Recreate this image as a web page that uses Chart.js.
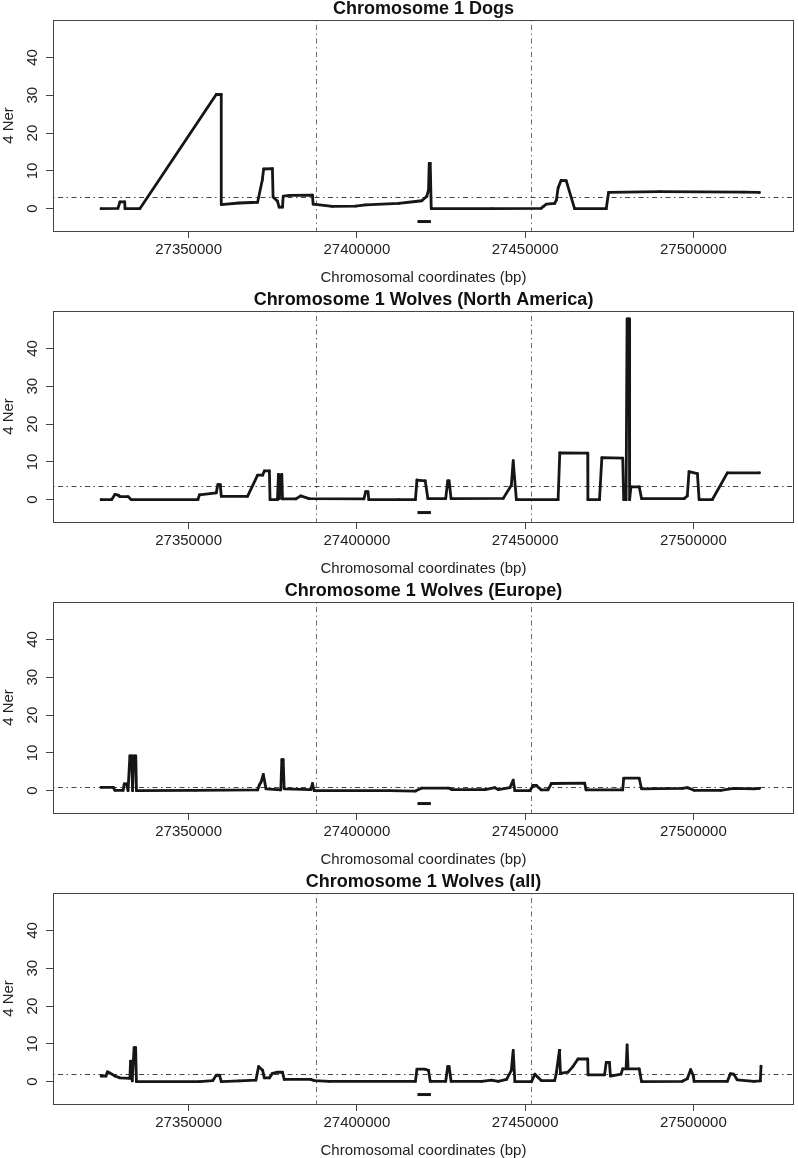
<!DOCTYPE html>
<html>
<head>
<meta charset="utf-8">
<script src="https://cdn.jsdelivr.net/npm/chart.js@4.4.1/dist/chart.umd.min.js"></script>
<style>
  html, body { margin: 0; padding: 0; background: #fff; overflow: hidden; }
  canvas { position: absolute; left: 0; }
</style>
</head>
<body>
<canvas id="c1" width="798" height="290" style="top:0px"></canvas>
<canvas id="c2" width="798" height="290" style="top:291px"></canvas>
<canvas id="c3" width="798" height="290" style="top:582px"></canvas>
<canvas id="c4" width="798" height="290" style="top:873px"></canvas>
<script>
// axes
const xTicks = [27350000, 27400000, 27450000, 27500000];
const yTicks = [0, 10, 20, 30, 40];
const xRange = [27309700, 27529900];
const yRange = [-5.9, 49.9];

// region markers
const boundaries = [27388000, 27451700];
const barX = [27418000, 27422000];
const barLevel = -3.4;

// panel titles and mean 4Ner
const titles = [
  "Chromosome 1 Dogs",
  "Chromosome 1 Wolves (North America)",
  "Chromosome 1 Wolves (Europe)",
  "Chromosome 1 Wolves (all)"
];
const means = [3.1, 3.6, 0.9, 2.0];

// Dogs
const dogsPos = [
  27324000, 27329000, 27329600, 27331000, 27331100, 27335500,
  27358200, 27359700, 27359700, 27365000, 27370500, 27371900,
  27372300, 27374900, 27375100, 27376400, 27376900, 27377900,
  27378100, 27380000, 27386800, 27387000, 27392700, 27399600,
  27402600, 27412400, 27417400, 27419300, 27420800, 27421300,
  27421500, 27421800, 27422100, 27440000, 27454800, 27455300,
  27456300, 27458800, 27459300, 27459800, 27460700, 27462200,
  27464700, 27474100, 27474800, 27490000, 27515000, 27519600
];
const dogsNe = [
  0, 0.1, 1.8, 1.8, 0, 0,
  30.2, 30.2, 1.1, 1.5, 1.7, 7.6,
  10.5, 10.6, 3.1, 2.0, 0.4, 0.4,
  3.3, 3.5, 3.6, 1.2, 0.6, 0.7,
  1.0, 1.4, 1.9, 2.1, 3.3, 5.0,
  12.0, 12.0, 0, 0, 0.1, 0.5,
  1.2, 1.4, 2.3, 5.5, 7.5, 7.4,
  0, 0, 4.3, 4.5, 4.4, 4.3
];

// Wolves North America
const naPos = [
  27324000, 27327100, 27328100, 27329100, 27329600, 27332000,
  27333000, 27352750, 27353250, 27358200, 27358700, 27359400,
  27359700, 27367500, 27370500, 27372000, 27372500, 27374000,
  27374200, 27376400, 27376700, 27377000, 27377300, 27377700,
  27377900, 27381900, 27383300, 27385800, 27402100, 27402600,
  27403300, 27403550, 27412400, 27417400, 27417850, 27420300,
  27421100, 27426400, 27427000, 27427400, 27428000, 27443500,
  27445900, 27446450, 27447400, 27459800, 27460300, 27468600,
  27468650, 27472100, 27472800, 27479000, 27479300, 27480000,
  27480300, 27480900, 27481050, 27481450, 27483900, 27484600,
  27497250, 27498200, 27498700, 27501200, 27501700, 27505600,
  27510100, 27519600
];
const naNe = [
  0, 0, 1.4, 1.2, 0.8, 0.8,
  0, 0, 1.3, 1.8, 4.0, 4.0,
  0.9, 0.9, 6.5, 6.5, 7.6, 7.6,
  0, 0, 6.7, 0.3, 6.5, 6.7,
  0.2, 0.2, 1.0, 0.3, 0.2, 2.1,
  2.1, 0, 0, 0, 5.2, 5.0,
  0.3, 0.3, 5.0, 5.0, 0.3, 0.35,
  3.8, 10.3, 0, 0, 12.4, 12.3,
  0, 0, 11.1, 11.0, 0, 0,
  47.8, 47.8, 0, 3.4, 3.4, 0.3,
  0.3, 1.0, 7.4, 6.9, 0, 0,
  7.1, 7.1
];

// Wolves Europe
const euPos = [
  27324000, 27327600, 27328100, 27330550, 27330850, 27331550,
  27332000, 27332550, 27333050, 27333350, 27333700, 27334300,
  27334500, 27352000, 27370500, 27371000, 27371500, 27372200,
  27373000, 27377400, 27377700, 27378100, 27378400, 27386300,
  27386800, 27387300, 27409500, 27417400, 27419300, 27427200,
  27428200, 27438100, 27441000, 27442000, 27445500, 27446450,
  27446950, 27451400, 27452400, 27453300, 27454800, 27456800,
  27457800, 27467700, 27468100, 27479000, 27479300, 27483900,
  27484600, 27496700, 27498200, 27500200, 27508100, 27512000,
  27518000, 27519600
];
const euNe = [
  0.9, 0.9, 0.1, 0.1, 1.8, 1.8,
  0, 9.2, 9.2, 0, 9.2, 9.2,
  0, 0.1, 0.2, 1.5, 2.2, 4.3,
  0.5, 0.2, 8.2, 8.2, 0.5, 0.3,
  1.9, 0, 0, -0.1, 0.7, 0.7,
  0.3, 0.3, 0.8, 0.3, 0.8, 2.8,
  0, 0, 1.4, 1.4, 0.2, 0.2,
  1.9, 2.0, 0.2, 0.2, 3.3, 3.3,
  0.5, 0.6, 0.8, 0.1, 0.1, 0.6,
  0.5, 0.6
];

// Wolves all
const allPos = [
  27324000, 27325450, 27325850, 27326600, 27328100, 27329600,
  27332550, 27332750, 27333050, 27333250, 27333800, 27334250,
  27334500, 27353250, 27357200, 27358200, 27359200, 27359700,
  27365100, 27370000, 27370800, 27372000, 27372500, 27374000,
  27374900, 27376400, 27377900, 27378400, 27386300, 27387300,
  27391700, 27417400, 27417850, 27420300, 27421300, 27421800,
  27426400, 27427000, 27427400, 27428000, 27437100, 27440000,
  27442000, 27444500, 27445900, 27446450, 27446950, 27451900,
  27452900, 27453800, 27454800, 27458800, 27459300, 27460200,
  27460350, 27460500, 27462700, 27464200, 27465700, 27468600,
  27468700, 27473600, 27474100, 27475050, 27475350, 27478500,
  27479000, 27480000, 27480300, 27480600, 27483900, 27484600,
  27496700, 27498200, 27499200, 27500000, 27500200, 27510100,
  27511000, 27512000, 27513000, 27518000, 27519900, 27520100
];
const allNe = [
  1.5, 1.5, 2.6, 2.3, 1.5, 1.0,
  0.9, 5.4, 5.4, 0.2, 9.0, 9.0,
  0, 0, 0.3, 1.7, 1.7, 0,
  0.2, 0.4, 4.0, 3.0, 1.0, 1.0,
  2.2, 2.5, 2.5, 0.6, 0.6, 0.3,
  0.1, 0.1, 3.3, 3.3, 3.0, 0.1,
  0.1, 4.0, 4.0, 0.1, 0.1, 0.4,
  0.1, 0.6, 3.0, 8.3, 0, 0,
  2.0, 1.2, 0.3, 0.3, 2.5, 8.3,
  8.3, 2.2, 2.5, 4.0, 6.0, 6.0,
  1.8, 1.8, 5.1, 5.1, 1.5, 2.0,
  3.4, 3.4, 9.7, 3.4, 3.4, 0,
  0.1, 0.8, 3.2, 1.5, 0.1, 0.1,
  2.1, 2.0, 0.5, 0.1, 0.2, 4.1
];

const FONT = "Liberation Sans";
Chart.defaults.font.family = FONT;

// box, reference lines and rotated y labels like R's base graphics
const frame = {
  id: "frame",
  beforeDatasetsDraw(chart, args, opts) {
    const { ctx, chartArea: a, scales: { x, y } } = chart;
    ctx.save();
    ctx.lineWidth = 1;
    ctx.setLineDash([1.5, 3.5, 5, 3.5]);
    ctx.strokeStyle = "#6a6a6a";
    boundaries.forEach(b => {
      const px = Math.round(x.getPixelForValue(b)) + 0.5;
      ctx.beginPath();
      ctx.moveTo(px, a.top);
      ctx.lineTo(px, a.bottom);
      ctx.stroke();
    });
    ctx.strokeStyle = "#444";
    const py = Math.round(y.getPixelForValue(opts.mean)) + 0.5;
    ctx.beginPath();
    ctx.moveTo(a.left, py);
    ctx.lineTo(a.right, py);
    ctx.stroke();
    ctx.restore();
  },
  afterDraw(chart) {
    const { ctx, chartArea: a, scales: { y } } = chart;
    ctx.save();
    ctx.strokeStyle = "#444";
    ctx.lineWidth = 1;
    ctx.strokeRect(Math.round(a.left) + 0.5, Math.round(a.top) + 0.5,
      Math.round(a.width) - 1, Math.round(a.height));
    ctx.fillStyle = "#222";
    ctx.font = "15px '" + FONT + "'";
    ctx.textAlign = "center";
    ctx.textBaseline = "alphabetic";
    yTicks.forEach(v => {
      ctx.save();
      ctx.translate(a.left - 16.5, y.getPixelForValue(v));
      ctx.rotate(-Math.PI / 2);
      ctx.fillText(String(v), 0, 0);
      ctx.restore();
    });
    ctx.restore();
  }
};

function drawPanel(id, title, mean, pos, ne) {
  const pts = pos.map((p, i) => ({ x: p, y: ne[i] }));
  const bar = barX.map(p => ({ x: p, y: barLevel }));

  return new Chart(document.getElementById(id), {
    type: "line",
    data: {
      datasets: [
        {
          data: pts,
          borderColor: "#161616",
          borderWidth: 2.8,
          borderJoinStyle: "round",
          borderCapStyle: "round",
          pointStyle: "rect",
          pointRadius: 1.7,
          pointBackgroundColor: "#161616",
          pointBorderWidth: 0,
          tension: 0
        },
        {
          data: bar,
          borderColor: "#161616",
          borderWidth: 3,
          pointRadius: 0
        }
      ]
    },
    options: {
      responsive: false,
      animation: false,
      devicePixelRatio: 1,
      layout: { padding: { top: 0, left: 0, right: 1, bottom: 0 } },
      plugins: {
        legend: { display: false },
        tooltip: { enabled: false },
        title: {
          display: true,
          text: title,
          fullSize: false,
          color: "#111",
          font: { size: 18, weight: "bold", lineHeight: 1 },
          padding: { top: 0, bottom: 2 }
        },
        frame: { mean: mean }
      },
      scales: {
        x: {
          type: "linear",
          min: xRange[0],
          max: xRange[1],
          afterBuildTicks: s => { s.ticks = xTicks.map(v => ({ value: v })); },
          afterFit: s => { s.height = 59; },
          border: { display: false },
          grid: { drawOnChartArea: false, drawTicks: true, tickLength: 7, color: "#444" },
          ticks: {
            autoSkip: false,
            maxRotation: 0,
            padding: 3,
            color: "#222",
            font: { size: 15 },
            callback: v => String(v)
          },
          title: {
            display: true,
            text: "Chromosomal coordinates (bp)",
            color: "#222",
            font: { size: 15 },
            padding: { top: 0, bottom: 3 }
          }
        },
        y: {
          min: yRange[0],
          max: yRange[1],
          afterBuildTicks: s => { s.ticks = yTicks.map(v => ({ value: v })); },
          afterFit: s => { s.width = 53; },
          border: { display: false },
          grid: { drawOnChartArea: false, drawTicks: true, tickLength: 7, color: "#444" },
          ticks: { display: false },
          title: {
            display: true,
            text: "4 Ner",
            color: "#222",
            font: { size: 15 },
            padding: { top: 0, bottom: 0 }
          }
        }
      }
    },
    plugins: [frame]
  });
}

drawPanel("c1", titles[0], means[0], dogsPos, dogsNe);
drawPanel("c2", titles[1], means[1], naPos, naNe);
drawPanel("c3", titles[2], means[2], euPos, euNe);
drawPanel("c4", titles[3], means[3], allPos, allNe);
</script>
</body>
</html>
